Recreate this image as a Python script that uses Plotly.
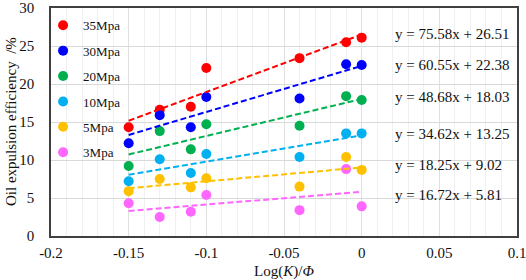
import plotly.graph_objects as go

x_vals = [-0.15, -0.13, -0.11, -0.10, -0.04, -0.01, 0.0]

series_names = ["35Mpa", "30Mpa", "20Mpa", "10Mpa", "5Mpa", "3Mpa"]
y_35 = [14.3, 16.6, 17.0, 22.1, 23.4, 25.5, 26.1]
y_30 = [12.2, 15.9, 14.3, 18.3, 18.1, 22.6, 22.5]
y_20 = [9.2, 13.8, 11.4, 14.7, 14.5, 18.4, 17.9]
y_10 = [7.2, 10.1, 8.3, 10.8, 10.4, 13.5, 13.5]
y_5 = [5.9, 7.5, 6.4, 7.6, 6.5, 10.4, 8.7]
y_3 = [4.3, 2.5, 3.2, 5.4, 3.4, 8.8, 3.9]
series_values = [y_35, y_30, y_20, y_10, y_5, y_3]

x_ticks = [-0.2, -0.15, -0.1, -0.05, 0, 0.05, 0.1]
x_tick_text = ["-0.2", "-0.15", "-0.1", "-0.05", "0", "0.05", "0.1"]

slopes = [75.58, 60.55, 48.68, 34.62, 18.25, 16.72]
intercepts = [26.51, 22.38, 18.03, 13.25, 9.02, 5.81]
eq_labels = ["y = 75.58x + 26.51", "y = 60.55x + 22.38", "y = 48.68x + 18.03",
             "y = 34.62x + 13.25", "y = 18.25x + 9.02", "y = 16.72x + 5.81"]
eq_y = [26.6, 22.5, 18.3, 13.4, 9.3, 5.4]
eq_x = 0.02
trend_x = [-0.15, 0.0]

colors = ["#FF0000", "#0000FF", "#00B050", "#00B0F0", "#FFC000", "#FF66FF"]

FONT = "Liberation Serif, Times New Roman, serif"

fig = go.Figure()
for i, (name, ys) in enumerate(zip(series_names, series_values)):
    fig.add_trace(go.Scatter(
        x=x_vals, y=ys, mode="markers", name=name,
        legendgroup=name,
        marker=dict(color=colors[i], size=10),
    ))
for i in range(len(series_names)):
    ty = [slopes[i] * xv + intercepts[i] for xv in trend_x]
    fig.add_trace(go.Scatter(
        x=trend_x, y=ty, mode="lines", showlegend=False,
        line=dict(color=colors[i], width=2, dash="6px,3px"),
    ))

for lab, yy in zip(eq_labels, eq_y):
    fig.add_annotation(x=eq_x, y=yy, text=lab, showarrow=False,
                       xanchor="left", yanchor="middle",
                       font=dict(family=FONT, size=15, color="#111111"))

# y-axis title as a rotated annotation so it can sit close to the tick labels
fig.add_annotation(x=0, y=0.5, xref="paper", yref="paper", xshift=-40,
                   text="Oil expulsion efficiency  /%", textangle=-90,
                   showarrow=False, xanchor="center", yanchor="middle",
                   font=dict(family=FONT, size=15, color="#111111"))

fig.update_layout(
    width=526, height=280,
    margin=dict(l=51, r=9, t=8, b=44),
    paper_bgcolor="white", plot_bgcolor="white",
    font=dict(family=FONT, size=15, color="#111111"),
    showlegend=True,
    legend=dict(x=-0.017, y=0.99, xanchor="left", yanchor="top",
                bgcolor="rgba(0,0,0,0)", font=dict(family=FONT, size=13),
                tracegroupgap=5.5, itemwidth=30),
    xaxis=dict(range=[-0.2, 0.1], tickmode="array", tickvals=x_ticks, ticktext=x_tick_text,
               ticklabeloverflow="allow",
               showgrid=True, gridcolor="#E0E0E0", gridwidth=1,
               minor=dict(dtick=0.01, tick0=0, showgrid=True, gridcolor="#F0F0F0", gridwidth=1),
               zeroline=False, showline=True, linecolor="#404040", linewidth=1.5,
               mirror=True, ticks="", ticklabelstandoff=2, automargin=False,
               title=dict(text="Log(<i>K</i>)/<i>Φ</i>", standoff=9,
                          font=dict(family=FONT, size=15))),
    yaxis=dict(range=[0, 30], dtick=5,
               showgrid=True, gridcolor="#D9D9D9", gridwidth=1,
               zeroline=False, showline=True, linecolor="#404040", linewidth=1.5,
               mirror=True, ticks="", ticklabelstandoff=12, automargin=False),
)

fig.write_html("out.html", config={"displayModeBar": False},
               post_script="document.body.style.margin='0';")
